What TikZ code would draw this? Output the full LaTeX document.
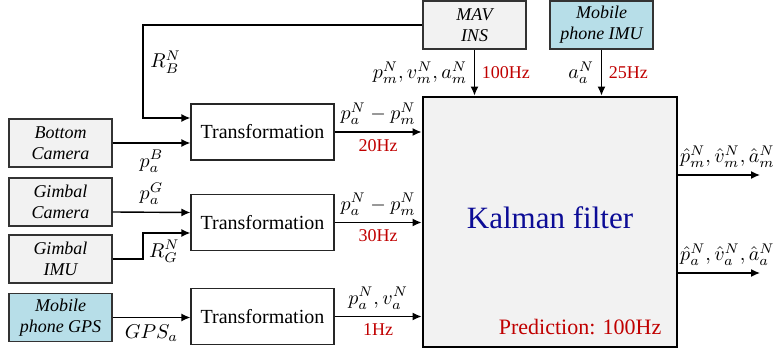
\documentclass[tikz,border=0pt]{standalone}
\usepackage{amsmath}
\usepackage{fontspec}
\setmainfont{Liberation Serif}
\usetikzlibrary{arrows.meta}
\definecolor{boxgray}{HTML}{F2F2F2}
\definecolor{phoneblue}{HTML}{B7DEE8}
\definecolor{hzred}{HTML}{C00000}
\definecolor{kfblue}{HTML}{0C0C96}

\begin{document}
\begin{tikzpicture}[x=0.5pt,y=-0.5pt,
  sensor/.style={draw=black!80,fill=boxgray,line width=0.6pt,minimum width=51.5pt,minimum height=24pt,
    inner sep=0pt,align=center,font=\fontsize{9}{10.5}\selectfont\itshape},
  phone/.style={sensor,fill=phoneblue},
  trans/.style={draw=black!85,line width=0.6pt,minimum width=71.5pt,minimum height=28pt,inner sep=0pt},
  kf/.style={draw,line width=1.4pt,fill=boxgray,minimum width=127pt,minimum height=125pt,inner sep=0pt,
    text=kfblue,font=\fontsize{15.5}{18}\selectfont},
  hz/.style={text=hzred,font=\fontsize{9}{10}\selectfont},
  arr/.style={-{Latex[length=4.5pt,width=4pt]},line width=0.7pt}]
\useasboundingbox (0,0) rectangle (778,353);

% sensors
\node[sensor] (botcam) at (60.5,143) {Bottom\\Camera};
\node[sensor] (gimcam) at (60.5,202) {Gimbal\\Camera};
\node[sensor] (gimimu) at (60.5,259) {Gimbal\\IMU};
\node[phone] (gps) at (60.5,317.5) {Mobile\\phone GPS};
\node[sensor] (ins) at (474.5,25) {MAV\\INS};
\node[phone] (imu) at (601.5,25) {Mobile\\phone IMU};

% processing
\node[trans] (trans1) at (262.5,132) {Transformation};
\node[trans] (trans2) at (262.5,222.5) {Transformation};
\node[trans] (trans3) at (262.5,316.5) {Transformation};
\node[kf] (kf) at (550,222) {\raisebox{4pt}{Kalman filter}};
\node[anchor=base east,text=hzred,font=\fontsize{11}{13}\selectfont] (pred)
  at ([xshift=-5pt,yshift=7pt]kf.south east) {Prediction: 100Hz};

% inputs of the transformations
\coordinate (rb) at (143,118);
\draw[arr] (ins.west) -| node[pos=0.7,right]{$R_B^N$} (rb) -- (rb -| trans1.west);
\draw[arr] (botcam.east) -- (botcam.east -| trans1.west) node[midway,below]{$p_a^B$};
\draw[arr] ([yshift=-5pt]gimcam.east) -- ([yshift=5pt]trans2.west) node[midway,above]{$p_a^G$};
\coordinate (rg) at (143,233);
\draw[arr] (gimimu.east) -| (rg) -- (rg -| trans2.west) node[pos=0.45,below]{$R_G^N$};
\draw[arr] (gps.east) -- (gps.east -| trans3.west) node[midway,below]{$GPS_a$};

% into the filter
\draw[arr] (trans1.east) -- (trans1.east -| kf.west)
  node[midway,above]{$p_a^N-p_m^N$} node[midway,below,hz]{20Hz};
\draw[arr] (trans2.east) -- (trans2.east -| kf.west)
  node[midway,above]{$p_a^N-p_m^N$} node[midway,below,hz]{30Hz};
\draw[arr] (trans3.east) -- (trans3.east -| kf.west)
  node[midway,above]{$p_a^N,v_a^N$} node[midway,below,hz]{1Hz};
\draw[arr] (ins.south) -- (ins.south |- kf.north)
  node[midway,left]{$p_m^N,v_m^N,a_m^N$} node[midway,right,hz]{100Hz};
\draw[arr] (imu.south) -- (imu.south |- kf.north)
  node[midway,left]{$a_a^N$} node[midway,right,hz]{25Hz};

% outputs
\coordinate (out1) at (760,175);
\coordinate (out2) at (760,273);
\draw[arr] (kf.east |- out1) -- (out1) node[pos=0.6,above]{$\hat{p}_m^N,\hat{v}_m^N,\hat{a}_m^N$};
\draw[arr] (kf.east |- out2) -- (out2) node[pos=0.6,above]{$\hat{p}_a^N,\hat{v}_a^N,\hat{a}_a^N$};
\end{tikzpicture}
\end{document}
